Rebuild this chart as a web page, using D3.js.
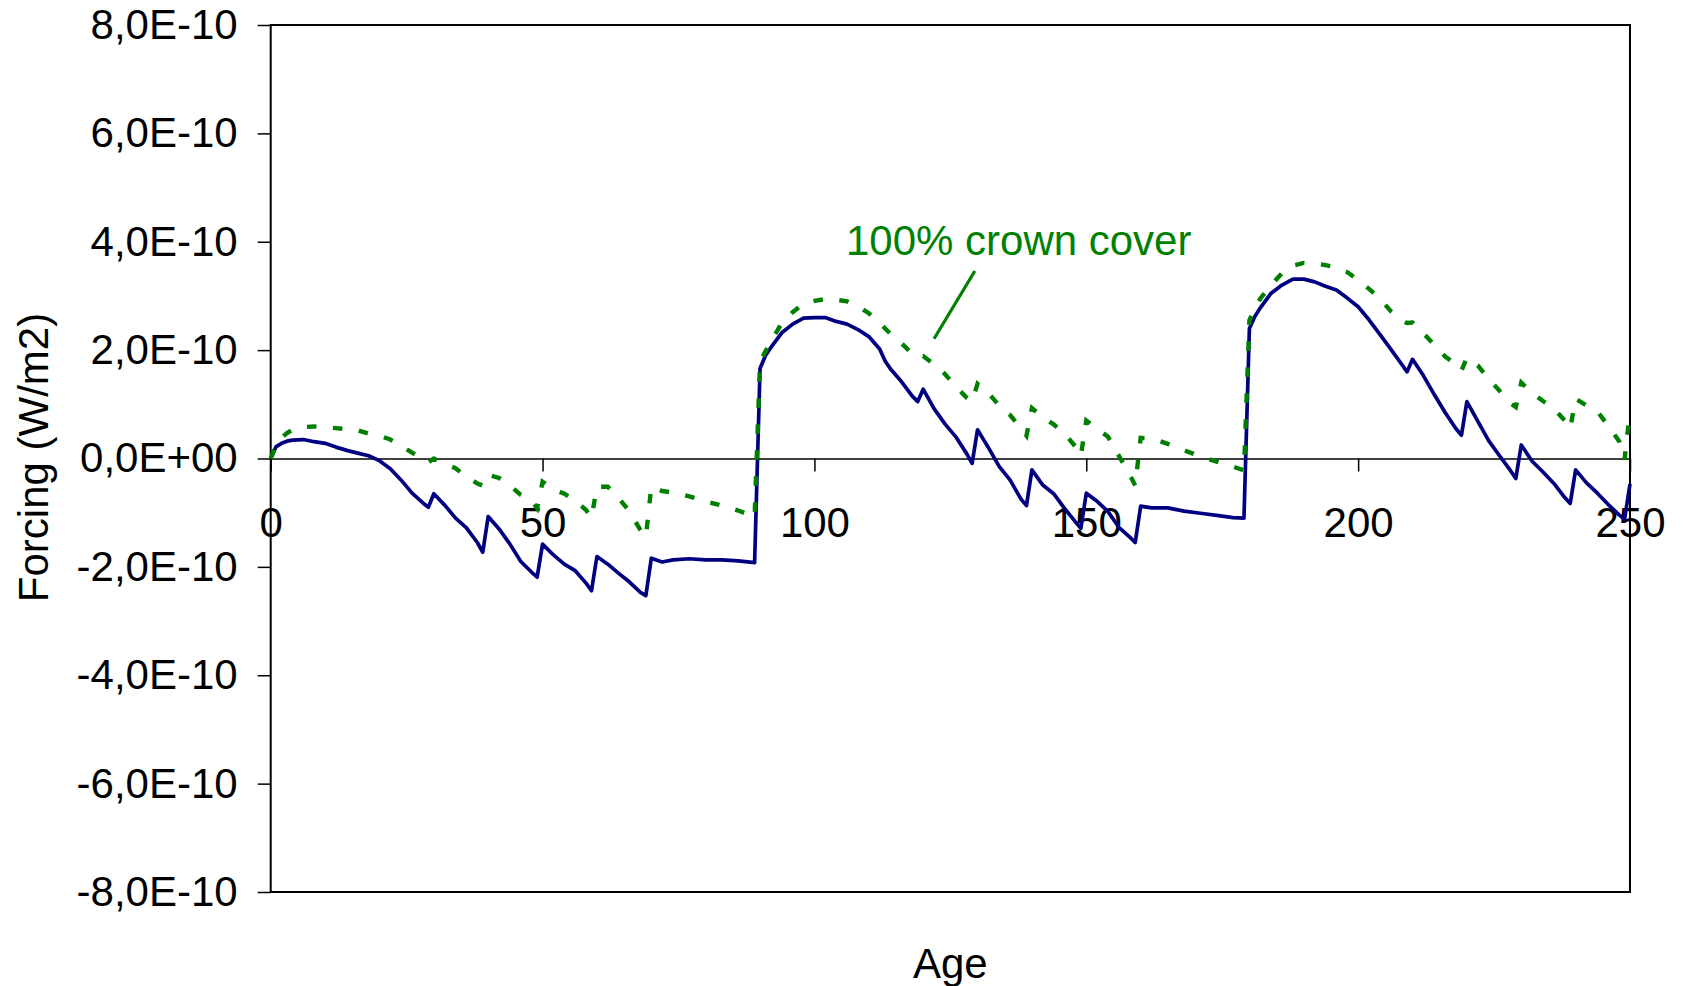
<!DOCTYPE html>
<html>
<head>
<meta charset="utf-8">
<script src="https://cdn.jsdelivr.net/npm/d3@7"></script>
<style>
  html, body { margin: 0; padding: 0; background: #ffffff; }
  svg { display: block; }
  text { font-family: "Liberation Sans", Arial, Helvetica, sans-serif; fill: #000; }
</style>
</head>
<body>
<svg id="chart" width="1683" height="986"></svg>
<script>
// Stand age (years) at which both forcing series are sampled
const ages = [
  0, 1, 2, 3, 4, 6, 8, 10, 12, 14,
  16, 18, 20, 22, 24, 26, 28, 29, 30, 32,
  34, 36, 38, 39, 40, 42, 44, 46, 48, 49,
  50, 52, 54, 56, 58, 59, 60, 62, 64, 66,
  68, 69, 70, 72, 74, 77, 80, 83, 86, 89,
  90, 91, 92, 94, 96, 98, 100, 102, 104, 106,
  108, 110, 112, 113, 114, 116, 118, 119, 120, 122,
  124, 126, 128, 129, 130, 132, 134, 136, 138, 139,
  140, 142, 144, 146, 148, 149, 150, 152, 154, 156,
  158, 159, 160, 162, 165, 168, 171, 174, 177, 179,
  180, 181, 182, 184, 186, 188, 190, 192, 194, 196,
  198, 200, 202, 204, 206, 208, 209, 210, 212, 214,
  216, 218, 219, 220, 222, 224, 226, 228, 229, 230,
  232, 234, 236, 238, 239, 240, 242, 244, 246, 248,
  249, 250
];

// Radiative forcing of the managed stand, in units of 1E-10 W/m2 (solid navy line)
const forcingStand = [
  0.00, 0.22, 0.28, 0.32, 0.34, 0.35, 0.31, 0.28, 0.21, 0.15,
  0.10, 0.05, -0.04, -0.19, -0.40, -0.64, -0.82, -0.90, -0.65, -0.86,
  -1.10, -1.28, -1.55, -1.73, -1.07, -1.30, -1.58, -1.90, -2.10, -2.19,
  -1.58, -1.78, -1.95, -2.07, -2.30, -2.44, -1.81, -1.95, -2.12, -2.28,
  -2.47, -2.53, -1.84, -1.91, -1.87, -1.85, -1.87, -1.87, -1.89, -1.92,
  1.66, 1.90, 2.05, 2.32, 2.48, 2.59, 2.60, 2.60, 2.53, 2.48,
  2.38, 2.25, 2.02, 1.80, 1.65, 1.42, 1.15, 1.05, 1.28, 0.92,
  0.64, 0.40, 0.09, -0.09, 0.53, 0.20, -0.15, -0.40, -0.75, -0.87,
  -0.21, -0.49, -0.65, -0.92, -1.17, -1.29, -0.64, -0.79, -0.98, -1.27,
  -1.45, -1.55, -0.88, -0.91, -0.91, -0.97, -1.01, -1.05, -1.09, -1.10,
  2.40, 2.62, 2.78, 3.05, 3.20, 3.31, 3.31, 3.26, 3.18, 3.11,
  2.96, 2.80, 2.56, 2.29, 2.02, 1.74, 1.60, 1.83, 1.53, 1.18,
  0.85, 0.55, 0.43, 1.05, 0.69, 0.33, 0.05, -0.22, -0.37, 0.25,
  -0.05, -0.25, -0.46, -0.72, -0.83, -0.21, -0.45, -0.64, -0.85, -1.04,
  -1.12, -0.47
];

// Radiative forcing with 100% crown cover, in units of 1E-10 W/m2 (dashed green line)
const forcingFullCover = [
  0.00, 0.25, 0.38, 0.47, 0.53, 0.58, 0.59, 0.58, 0.56, 0.54,
  0.52, 0.46, 0.42, 0.35, 0.23, 0.11, -0.02, -0.07, 0.00, -0.10,
  -0.18, -0.34, -0.46, -0.50, -0.30, -0.36, -0.50, -0.67, -0.78, -0.92,
  -0.43, -0.57, -0.65, -0.78, -0.95, -1.10, -0.52, -0.52, -0.73, -0.98,
  -1.32, -1.45, -0.52, -0.60, -0.63, -0.70, -0.79, -0.87, -0.96, -1.08,
  1.78, 1.98, 2.16, 2.50, 2.70, 2.86, 2.91, 2.94, 2.93, 2.90,
  2.81, 2.68, 2.51, 2.40, 2.30, 2.13, 1.93, 1.87, 1.89, 1.74,
  1.56, 1.33, 1.12, 1.05, 1.38, 1.21, 0.97, 0.80, 0.55, 0.42,
  0.93, 0.76, 0.63, 0.46, 0.22, 0.05, 0.70, 0.55, 0.40, 0.05,
  -0.30, -0.50, 0.38, 0.37, 0.27, 0.15, 0.04, -0.06, -0.15, -0.22,
  2.55, 2.78, 2.95, 3.20, 3.42, 3.56, 3.61, 3.60, 3.57, 3.52,
  3.44, 3.29, 3.13, 2.95, 2.72, 2.56, 2.50, 2.51, 2.31, 2.10,
  1.88, 1.74, 1.62, 1.86, 1.72, 1.47, 1.25, 1.02, 0.95, 1.40,
  1.21, 1.06, 0.92, 0.70, 0.55, 1.10, 0.98, 0.87, 0.60, 0.32,
  -0.02, 0.88
];

// Axis ticks
const xTickValues = [0, 50, 100, 150, 200, 250];
const yTickValues = [8, 6, 4, 2, 0, -2, -4, -6, -8];
const yTickLabels = ["8,0E-10", "6,0E-10", "4,0E-10", "2,0E-10", "0,0E+00",
                     "-2,0E-10", "-4,0E-10", "-6,0E-10", "-8,0E-10"];

// Text
const xTitle = "Age";
const yTitle = "Forcing (W/m2)";
const annotationText = "100% crown cover";
// Annotation anchor points in data units: label start, and the leader line ends
const annotationLabel = { age: 105.8, value: 3.75 };
const annotationLine = [{ age: 129.5, value: 3.46 }, { age: 122.0, value: 2.21 }];

// ---- drawing ----
const plot = { left: 270.7, right: 1630, top: 25, bottom: 892 };
const fontSize = 42;
const navy = "#000080";
const green = "#008000";

const svg = d3.select("#chart");

const x = d3.scaleLinear().domain([0, 250]).range([plot.left, plot.right]);
const y = d3.scaleLinear().domain([-8, 8]).range([plot.bottom, plot.top]);

// Plot frame
svg.append("rect")
  .attr("x", plot.left).attr("y", plot.top)
  .attr("width", plot.right - plot.left).attr("height", plot.bottom - plot.top)
  .attr("fill", "none").attr("stroke", "#000").attr("stroke-width", 2);

// Y axis (left)
const yAxis = svg.append("g")
  .attr("transform", `translate(${plot.left},0)`)
  .call(d3.axisLeft(y)
    .tickValues(yTickValues)
    .tickFormat((d, i) => yTickLabels[i])
    .tickSize(13)
    .tickPadding(20));
yAxis.select(".domain").remove();
yAxis.selectAll(".tick line").attr("stroke", "#000").attr("stroke-width", 1.5);
yAxis.selectAll(".tick text")
  .style("font-size", fontSize + "px")
  .style("font-family", '"Liberation Sans", Arial, sans-serif')
  .attr("fill", "#000");

// X axis along the zero line
const xAxis = svg.append("g")
  .attr("transform", `translate(0,${y(0)})`)
  .call(d3.axisBottom(x)
    .tickValues(xTickValues)
    .tickFormat(d3.format("d"))
    .tickSize(13)
    .tickSizeOuter(0)
    .tickPadding(36));
xAxis.select(".domain").attr("stroke", "#000").attr("stroke-width", 1.5);
xAxis.selectAll(".tick line").attr("stroke", "#000").attr("stroke-width", 1.5);
xAxis.selectAll(".tick text")
  .style("font-size", fontSize + "px")
  .style("font-family", '"Liberation Sans", Arial, sans-serif')
  .attr("fill", "#000");

// Axis titles
svg.append("text")
  .attr("x", (plot.left + plot.right) / 2)
  .attr("y", 978)
  .attr("text-anchor", "middle")
  .style("font-size", fontSize + "px")
  .text(xTitle);

svg.append("text")
  .attr("transform", `translate(48,${(plot.top + plot.bottom) / 2 - 1}) rotate(-90)`)
  .attr("text-anchor", "middle")
  .style("font-size", fontSize + "px")
  .text(yTitle);

// Series
const standData = ages.map((a, i) => ({ age: a, value: forcingStand[i] }));
const coverData = ages.map((a, i) => ({ age: a, value: forcingFullCover[i] }));

const line = d3.line()
  .x(d => x(d.age))
  .y(d => y(d.value));

svg.append("path")
  .datum(standData)
  .attr("d", line)
  .attr("fill", "none")
  .attr("stroke", navy)
  .attr("stroke-width", 3.7)
  .attr("stroke-linejoin", "round");

svg.append("path")
  .datum(coverData)
  .attr("d", line)
  .attr("fill", "none")
  .attr("stroke", green)
  .attr("stroke-width", 4.4)
  .attr("stroke-dasharray", "9.5,16.5");

// Annotation for the crown-cover series
svg.append("line")
  .attr("x1", x(annotationLine[0].age)).attr("y1", y(annotationLine[0].value))
  .attr("x2", x(annotationLine[1].age)).attr("y2", y(annotationLine[1].value))
  .attr("stroke", green)
  .attr("stroke-width", 3.2);

svg.append("text")
  .attr("x", x(annotationLabel.age))
  .attr("y", y(annotationLabel.value))
  .style("font-size", fontSize + "px")
  .style("fill", green)
  .text(annotationText);
</script>
</body>
</html>
